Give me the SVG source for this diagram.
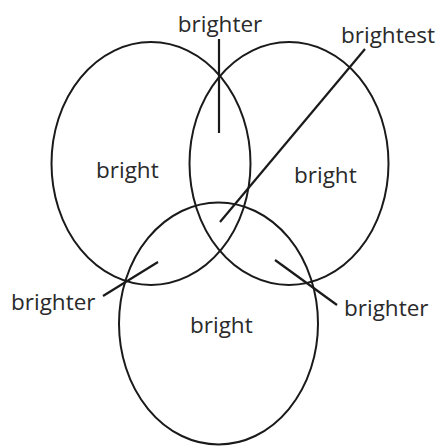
<svg xmlns="http://www.w3.org/2000/svg" width="440" height="446" viewBox="0 0 440 446">
<style>
.c{fill:none;stroke:#1a1a1a;stroke-width:2}
.l{stroke:#1a1a1a;stroke-width:2.2;fill:none}
text{font-family:"Open Sans","Noto Sans",sans-serif;font-size:22.5px;fill:#2a2a2a}
</style>
<rect width="440" height="446" fill="#fff"/>
<g id="circle-left"><ellipse class="c" cx="151" cy="163.5" rx="99.5" ry="121.5"/><text x="96" y="178">bright</text></g>
<g id="circle-right"><ellipse class="c" cx="289" cy="163.5" rx="99.5" ry="121.5"/><text x="294" y="183">bright</text></g>
<g id="circle-bottom"><ellipse class="c" cx="218.5" cy="323.5" rx="99.5" ry="121"/><text x="190" y="333">bright</text></g>
<g id="connectors">
<line class="l" x1="219" y1="39" x2="219" y2="133"/>
<line class="l" x1="365" y1="49" x2="220" y2="222"/>
<line class="l" x1="103" y1="296" x2="158" y2="262"/>
<line class="l" x1="275" y1="260" x2="337" y2="305"/>
</g>
<g id="label-top"><text x="220" y="32" text-anchor="middle">brighter</text></g>
<g id="label-brightest"><text x="341" y="43">brightest</text></g>
<g id="label-left"><text x="11" y="310">brighter</text></g>
<g id="label-right"><text x="344" y="316">brighter</text></g>
</svg>
